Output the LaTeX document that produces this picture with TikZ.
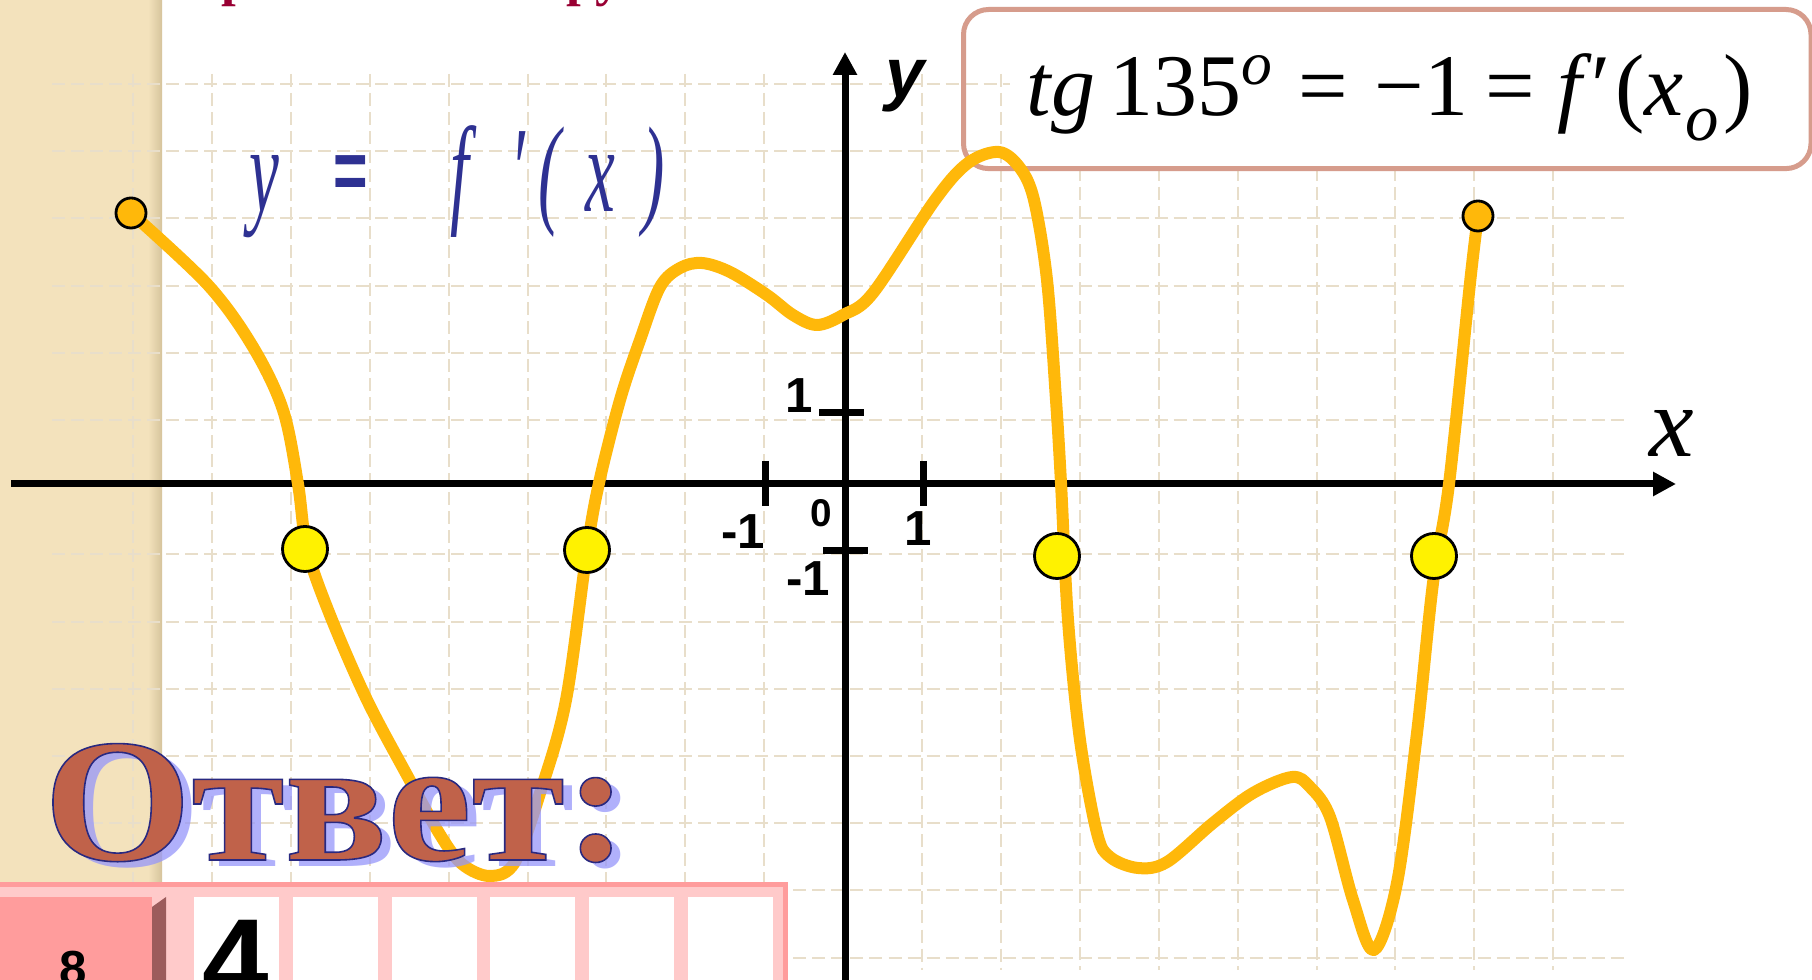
\documentclass[tikz,border=0pt]{standalone}
\usepackage{fontspec}
\setmainfont{Liberation Serif}
\newfontfamily\arialfont{Liberation Sans}
\newfontfamily\narrowserif{Liberation Serif}[FakeStretch=0.55]
\newfontfamily\narrowsans{Liberation Sans}[FakeStretch=0.7]
\newfontfamily\wideserif{Liberation Serif}[FakeStretch=1.08]
\usetikzlibrary{arrows.meta, positioning}

\definecolor{beige}{RGB}{243,226,188}
\definecolor{beigedark}{RGB}{214,196,156}
\definecolor{gridcol}{RGB}{232,222,202}
\definecolor{curvecol}{RGB}{255,184,10}
\definecolor{boxcol}{RGB}{214,156,140}
\definecolor{formblue}{RGB}{46,49,146}
\definecolor{otvetcol}{RGB}{192,98,74}
\definecolor{otvetshadow}{RGB}{150,150,250}
\definecolor{titlered}{RGB}{153,0,51}
\definecolor{pinkdark}{RGB}{255,156,156}
\definecolor{pinklight}{RGB}{255,202,202}
\definecolor{bevel}{RGB}{156,92,92}

% outlined letters (fill + navy stroke)
\newcommand{\outlinetext}[1]{\special{pdf:literal direct 2 Tr 0.45 w 0.16 0.16 0.5 RG}#1\special{pdf:literal direct 0 Tr}}

\begin{document}
\begin{tikzpicture}[
    x=0.01cm, y=-0.01cm,
    gridline/.style ={gridcol, line width=0.02cm, dash pattern=on 0.13cm off 0.06cm},
    axis/.style     ={line width=0.07cm, -{Triangle[length=0.23cm, width=0.23cm]}},
    axtick/.style   ={line width=0.07cm},
    fcurve/.style   ={curvecol, line width=0.12cm, line join=round, line cap=round},
    rootdot/.style  ={circle, draw=black, line width=0.8pt, fill=yellow,
                      minimum size=0.45cm, inner sep=0pt},
    enddot/.style   ={circle, draw=black, line width=0.8pt, fill=curvecol,
                      minimum size=0.3cm, inner sep=0pt},
    ticklab/.style  ={font=\fontsize{14pt}{16pt}\selectfont\arialfont\bfseries, inner sep=0pt},
    formtext/.style ={font=\fontsize{34.7pt}{40pt}\selectfont\narrowserif\itshape,
                      text=formblue, inner sep=0pt, anchor=base},
    bigword/.style  ={font=\fontsize{50pt}{56pt}\selectfont\wideserif\bfseries, inner sep=0pt,
                      anchor=base west}
]

% =================== PAGE: background, side strip, grid ===================
\useasboundingbox (0,0) rectangle (1812,980);
\clip (0,0) rectangle (1812,980);
\fill[white] (0,0) rectangle (1812,980);
\fill[beige] (0,0) rectangle (162,882);
\shade[left color=beige, right color=beigedark] (148,0) rectangle (162,882);

% horizontal grid lines (top two stop at the box)
\foreach \gy in {84,151.2}
    \draw[gridline] (52,\gy) -- (1010,\gy);
\foreach \k in {2,3,4,5,7,8,9,10,11,12,13}
    \draw[gridline] (52,{84+67.2*\k}) -- (1624,{84+67.2*\k});

% vertical grid lines
\foreach \k in {0,...,11}
    \draw[gridline] ({133+78.9*\k},74) -- ({133+78.9*\k},970);
\foreach \k in {12,...,18}
    \draw[gridline] ({133+78.9*\k},168) -- ({133+78.9*\k},970);

% title letters cut off at the top edge
\node[font=\fontsize{15pt}{18pt}\selectfont\bfseries, text=titlered, inner sep=0pt,
      anchor=base west] (title1) at (221,-4) {р};
\node[font=\fontsize{15pt}{18pt}\selectfont\bfseries, text=titlered, inner sep=0pt,
      anchor=base west] (title2) at (566,-4) {ру};

% =================== FORMULA BOX (top right) ===================
\node[draw=boxcol, line width=0.05cm, rounded corners=0.25cm, anchor=north west,
      minimum width=8.47cm, minimum height=1.59cm, inner sep=0pt] (formbox) at (961,7) {};
\node[font=\fontsize{25pt}{28pt}\selectfont, inner sep=0pt, anchor=base west] (formula)
    at (1026,116)
    {\textit{tg}\,135\textsuperscript{\textit{o}}\hspace{0.28em}=\hspace{0.3em}−1\hspace{0.2em}=\hspace{0.25em}\textit{f}′\hspace{0.05em}(\textit{x}\hspace{0.02em}\raisebox{-0.28em}{\fontsize{19pt}{20pt}\selectfont\textit{o}}\hspace{0.05em})};

% =================== AXES ===================
\coordinate (xl) at (11,484);
\coordinate (xr) at (1676,484);
\coordinate (yb) at (845,990);
\coordinate (yt) at (845,52);
\draw[axis] (xl) -- (xr);
\draw[axis] (yb) -- (yt);

% --- ticks ---
\draw[axtick] (765,461) -- (765,506);
\draw[axtick] (923,461) -- (923,506);
\draw[axtick] (819,413) -- (864,413);
\draw[axtick] (823,551) -- (868,551);

% --- tick labels ---
\node[ticklab] (ly1)  at (799,396) {1};
\node[ticklab, font=\fontsize{11pt}{13pt}\selectfont\arialfont\bfseries] (l0) at (821,513) {0};
\node[ticklab] (lxm1) at (743,532) {-1};
\node[ticklab] (lx1)  at (918,529) {1};
\node[ticklab] (lym1) at (808,579) {-1};

\node[font=\fontsize{20pt}{24pt}\selectfont\arialfont\bfseries\itshape, inner sep=0pt]
    (ylab) at (905,86) {y};
\node[font=\fontsize{28.5pt}{32pt}\selectfont\itshape, inner sep=0pt]
    (xlab) at (1672,434) {x};

% =================== GRAPH OF f'(x) ===================
\draw[fcurve] plot[smooth, tension=0.55] coordinates {
    (131,213) (208,285) (253,347) (283,410) (298,484) (307,549) (330,615)
    (367,700) (408,777) (439,833) (462,864) (490,876) (515,862) (541,790)
    (566,700) (587,550) (599,483) (620,400) (640,340) (660,287) (680,268)
    (702,263) (730,272) (767,295) (793,315) (817,325) (843,315) (873,293)
    (935,200) (968,163) (999,152) (1020,168) (1034,200) (1047,280) (1056,400)
    (1061,483) (1068,620) (1080,740) (1097,833) (1110,857) (1138,868)
    (1167,862) (1213,823) (1253,793) (1292,777) (1310,787) (1330,817)
    (1353,900) (1374,950) (1397,883) (1417,733) (1433,583) (1449,484)
    (1470,283) (1478,216)};

% end points
\node[enddot] (e1) at (131,213) {};
\node[enddot] (e2) at (1478,216) {};

% points where f'(x) = -1
\node[rootdot] (d1) at (305,549) {};
\node[rootdot] (d2) at (587,550) {};
\node[rootdot] (d3) at (1057,556) {};
\node[rootdot] (d4) at (1434,556) {};

% --- caption y = f'(x) ---
\foreach \gx/\g in {264/y, 460/f, 518/′, 550/{(}, 600/x, 654/{)}}
    \node[formtext] (cap-\gx) at (\gx,212) {\g};
\node[font=\fontsize{24pt}{28pt}\selectfont\narrowsans\bfseries, text=formblue, inner sep=0pt]
    (capeq) at (351,178) {=};

% =================== ANSWER ===================
\node[bigword, text=otvetshadow, opacity=0.75] (shadow) at (53,867) {Ответ:};
\node[bigword, text=otvetcol] (otvet) at (43,860) {\outlinetext{Ответ:}};

% --- answer table ---
\fill[pinklight] (0,887) rectangle (783,980);
\fill[pinkdark] (0,882) rectangle (788,887);
\fill[pinkdark] (783,882) rectangle (788,980);
\foreach \i in {0,...,5}
    \fill[white] ({194+98.8*\i},897) rectangle ++(85,90);
\fill[pinkdark] (0,897) rectangle (152,980);
\fill[bevel] (152,907) -- (166,897) -- (166,980) -- (152,980) -- cycle;
\node[font=\fontsize{14pt}{16pt}\selectfont\arialfont\bfseries, inner sep=0pt, anchor=base]
    (num) at (73,986) {8};
\node[font=\fontsize{34pt}{40pt}\selectfont\arialfont\bfseries, inner sep=0pt, anchor=base west]
    (ans) at (202,1002) {4};

\end{tikzpicture}
\end{document}
